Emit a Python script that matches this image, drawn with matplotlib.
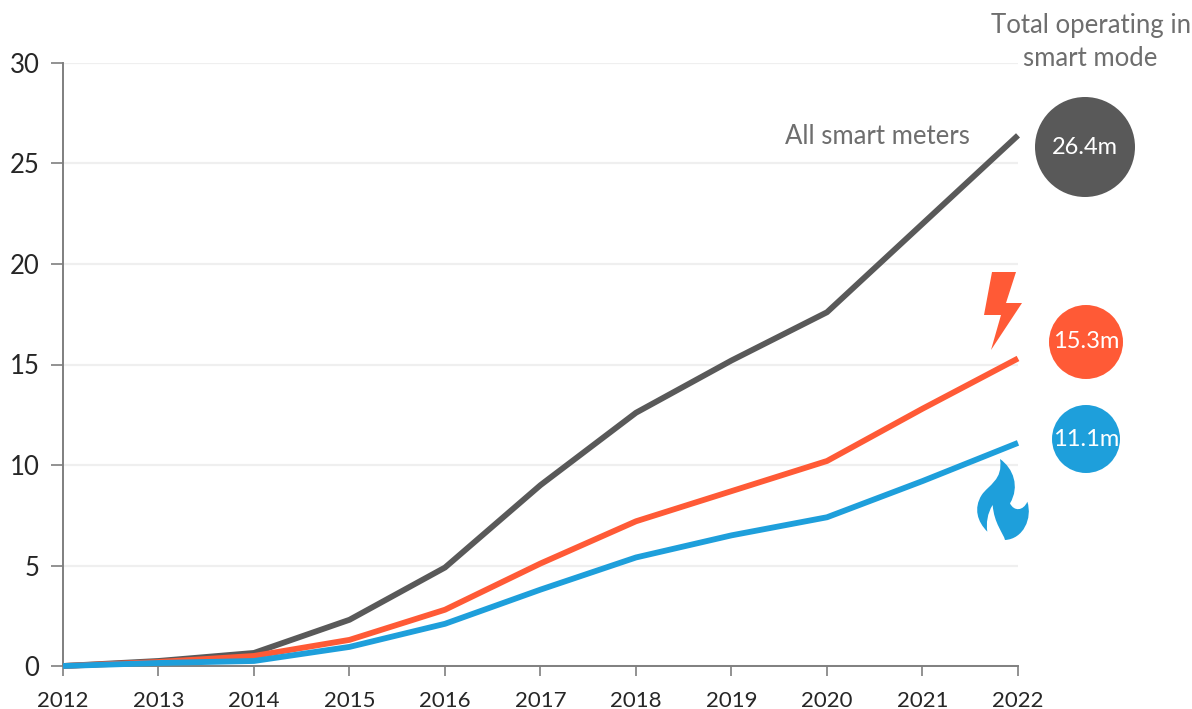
import matplotlib
matplotlib.use("Agg")
import matplotlib.pyplot as plt
from matplotlib.patches import Circle, Polygon, PathPatch
from matplotlib.path import Path

plt.rcParams['font.family'] = ['Lato', 'DejaVu Sans']

years = [2012, 2013, 2014, 2015, 2016, 2017, 2018, 2019, 2020, 2021, 2022]
all_meters = [0, 0.25, 0.65, 2.3, 4.9, 9.0, 12.6, 15.2, 17.6, 22.0, 26.4]
electricity = [0, 0.2, 0.5, 1.3, 2.8, 5.1, 7.2, 8.7, 10.2, 12.8, 15.3]
gas = [0, 0.15, 0.25, 0.95, 2.1, 3.8, 5.4, 6.5, 7.4, 9.2, 11.1]
y_ticks = [0, 5, 10, 15, 20, 25, 30]
totals = ["26.4m", "15.3m", "11.1m"]

GREY, ORANGE, BLUE = "#595959", "#FF5A36", "#1E9FDB"
W, H = 1192, 709
fig = plt.figure(figsize=(W / 100, H / 100), dpi=100)
ax = fig.add_axes([63 / W, 1 - 666 / H, (1018 - 63) / W, (666 - 63) / H])
ax.set_xlim(2012, 2022)
ax.set_ylim(0, 30)
for series, color in ((all_meters, GREY), (electricity, ORANGE), (gas, BLUE)):
    ax.plot(years, series, color=color, lw=4.2, solid_capstyle='butt', clip_on=False, zorder=3)

ax.set_xticks(years)
ax.set_yticks(y_ticks)
ax.grid(axis='y', color='#EFEFEF', lw=1.6)
ax.set_axisbelow(True)
for s in ('top', 'right'):
    ax.spines[s].set_visible(False)
for s in ('left', 'bottom'):
    ax.spines[s].set_color('#7F7F7F')
    ax.spines[s].set_linewidth(1.4)
ax.tick_params(axis='x', direction='out', length=7, width=1.2, color='#7F7F7F',
               labelsize=16, labelcolor='#262626', pad=11)
ax.tick_params(axis='y', direction='out', length=9, width=1.2, color='#7F7F7F',
               labelsize=18.5, labelcolor='#262626', pad=8)

ov = fig.add_axes([0, 0, 1, 1], zorder=5)
ov.set_xlim(0, W)
ov.set_ylim(H, 0)
ov.axis('off')
ov.patch.set_alpha(0)

for (cx, cy, r, c), t in zip([(1085, 147, 50, GREY), (1086, 342, 37, ORANGE), (1086, 439, 34, BLUE)], totals):
    ov.add_patch(Circle((cx, cy), r, fc=c, ec='none'))
    ov.text(cx, cy, t, color='white', fontsize=17, ha='center', va='center')

ov.text(877, 136, "All smart meters", color='#6E6E6E', fontsize=18.5, ha='center', va='center')
ov.text(1091, 25, "Total operating in", color='#6E6E6E', fontsize=18.5, ha='center', va='center')
ov.text(1090, 59, "smart mode", color='#6E6E6E', fontsize=18.5, ha='center', va='center')

ov.add_patch(Polygon([(992, 272), (1016, 272), (1006, 303), (1022, 303), (991, 350),
                      (1001, 315), (984, 315)], closed=True, fc=ORANGE, ec='none'))

def z(x, y):
    return (970 + x / 3, 455 + y / 3)

verts = [z(90, 12),
         z(130, 40), z(150, 95), z(120, 145),
         z(132, 170), z(160, 168), z(172, 140),
         z(188, 190), z(160, 252), z(105, 255),
         z(100, 235), z(72, 205), z(68, 150),
         z(52, 175), z(48, 205), z(52, 230),
         z(22, 200), z(10, 160), z(35, 120),
         z(55, 90), z(100, 75), z(90, 12)]
codes = [Path.MOVETO] + [Path.CURVE4] * 21
ov.add_patch(PathPatch(Path(verts, codes), fc=BLUE, ec='none'))

fig.savefig("out.png", dpi=100)
